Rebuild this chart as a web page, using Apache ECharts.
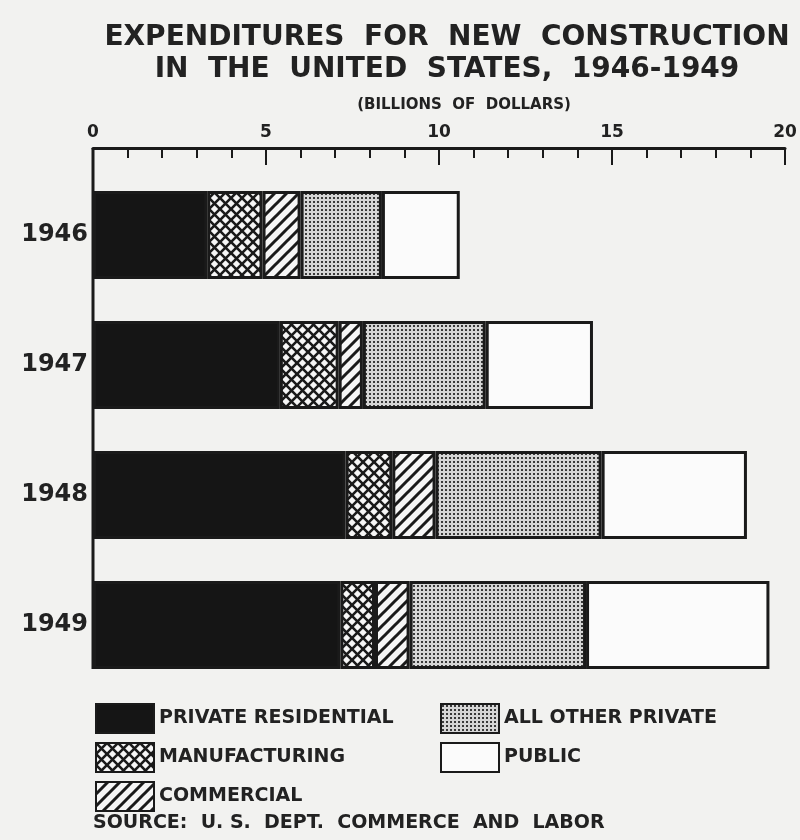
<!DOCTYPE html>
<html>
<head>
<meta charset="utf-8">
<script src="https://cdn.jsdelivr.net/npm/echarts@6/dist/echarts.min.js"></script>
<style>
  html, body { margin: 0; padding: 0; background: #f2f2f0; }
  #chart { width: 800px; height: 840px; }
</style>
</head>
<body>
<div id="chart"></div>
<script>
// values in billions of dollars
const years = ['1946', '1947', '1948', '1949'];
const privateResidential = [3.3, 5.4, 7.3, 7.15];
const manufacturing = [1.6, 1.7, 1.35, 1.0];
const commercial = [1.1, 0.7, 1.25, 1.0];
const allOtherPrivate = [2.35, 3.55, 4.8, 5.1];
const publicWork = [2.25, 3.1, 4.2, 5.3];
const xTicks = [0, 5, 10, 15, 20];

const font = 'DejaVu Sans';
const ink = '#1a1a1a';

// hatch patterns drawn on small canvases
function tile(w, h, draw) {
    const c = document.createElement('canvas');
    c.width = w; c.height = h;
    draw(c.getContext('2d'));
    return { image: c, repeat: 'repeat' };
}

const crossHatch = tile(11, 11, function (g) {
    g.fillStyle = '#f6f6f6';
    g.fillRect(0, 0, 11, 11);
    g.strokeStyle = ink;
    g.lineWidth = 2.6;
    g.beginPath();
    g.moveTo(-2, -2); g.lineTo(13, 13);
    g.moveTo(13, -2); g.lineTo(-2, 13);
    g.stroke();
});

const diagonal = tile(12, 12, function (g) {
    g.fillStyle = '#f6f6f6';
    g.fillRect(0, 0, 12, 12);
    g.strokeStyle = ink;
    g.lineWidth = 3;
    g.beginPath();
    g.moveTo(-6, 6); g.lineTo(6, -6);
    g.moveTo(0, 12); g.lineTo(12, 0);
    g.moveTo(6, 18); g.lineTo(18, 6);
    g.stroke();
});

const dots = tile(4, 4, function (g) {
    g.fillStyle = '#d6d6d6';
    g.fillRect(0, 0, 4, 4);
    g.fillStyle = '#3a3a3a';
    g.fillRect(1, 1, 2, 2);
});

const barWidth = 88;
const gridTop = 170;
const axisOffset = 22;

function seg(name, data, color) {
    return {
        name: name,
        type: 'bar',
        stack: 'total',
        barWidth: barWidth,
        data: data,
        itemStyle: { color: color, borderColor: ink, borderWidth: 3 },
        emphasis: { disabled: true }
    };
}

const legendText = { fontFamily: font, fontWeight: 'bold', fontSize: 19, color: '#222' };

var myChart = echarts.init(document.getElementById('chart'));

const option = {
    backgroundColor: '#f2f2f0',
    animation: false,
    title: [
        {
            text: 'EXPENDITURES  FOR  NEW  CONSTRUCTION\nIN  THE  UNITED  STATES,  1946-1949',
            left: 442, top: 17, textAlign: 'center',
            textStyle: { fontFamily: font, fontWeight: 'bold', fontSize: 28, lineHeight: 32, color: '#222' }
        },
        {
            text: '(BILLIONS  OF  DOLLARS)',
            left: 459, top: 93, textAlign: 'center',
            textStyle: { fontFamily: font, fontWeight: 'bold', fontSize: 15, color: '#222' }
        },
        {
            text: 'SOURCE:  U. S.  DEPT.  COMMERCE  AND  LABOR',
            left: 93, top: 814,
            padding: 0,
            textStyle: { fontFamily: font, fontWeight: 'bold', fontSize: 19, color: '#222' }
        }
    ],
    legend: [
        {
            data: ['PRIVATE RESIDENTIAL', 'MANUFACTURING', 'COMMERCIAL'],
            orient: 'vertical', left: 95, top: 703, padding: 0,
            itemWidth: 58, itemHeight: 29, itemGap: 8,
            selectedMode: false, icon: 'rect',
            textStyle: legendText
        },
        {
            data: ['ALL OTHER PRIVATE', 'PUBLIC'],
            orient: 'vertical', left: 440, top: 703, padding: 0,
            itemWidth: 58, itemHeight: 29, itemGap: 8,
            selectedMode: false, icon: 'rect',
            textStyle: legendText
        }
    ],
    grid: { left: 93, right: 15, top: gridTop, bottom: 150 },
    xAxis: {
        type: 'value',
        position: 'top',
        offset: axisOffset,
        min: xTicks[0],
        max: xTicks[xTicks.length - 1],
        interval: 5,
        axisLine: { show: true, lineStyle: { color: ink, width: 3 } },
        axisTick: { show: true, inside: true, length: 17, lineStyle: { color: ink, width: 2 } },
        minorTick: { show: true, splitNumber: 5, length: 10, lineStyle: { color: ink, width: 2 } },
        splitLine: { show: false },
        axisLabel: { fontFamily: font, fontWeight: 'bold', fontSize: 17, color: '#222', margin: 7 }
    },
    yAxis: {
        type: 'category',
        inverse: true,
        data: years,
        axisLine: { show: false },
        axisTick: { show: false },
        axisLabel: { fontFamily: font, fontWeight: 'bold', fontSize: 24, color: '#222', margin: 5 }
    },
    series: [
        seg('PRIVATE RESIDENTIAL', privateResidential, '#151515'),
        seg('MANUFACTURING', manufacturing, crossHatch),
        seg('COMMERCIAL', commercial, diagonal),
        seg('ALL OTHER PRIVATE', allOtherPrivate, dots),
        seg('PUBLIC', publicWork, '#fbfbfb')
    ]
};

option && myChart.setOption(option);

// left spine: from the top axis down to the foot of the last bar
const x0 = myChart.convertToPixel({ xAxisIndex: 0 }, 0);
const yEnd = myChart.convertToPixel({ yAxisIndex: 0 }, years[years.length - 1]) + barWidth / 2;
myChart.setOption({
    graphic: [{
        type: 'line',
        shape: { x1: x0, y1: gridTop - axisOffset, x2: x0, y2: yEnd },
        style: { stroke: ink, lineWidth: 3 },
        z: 10
    }]
});
</script>
</body>
</html>
